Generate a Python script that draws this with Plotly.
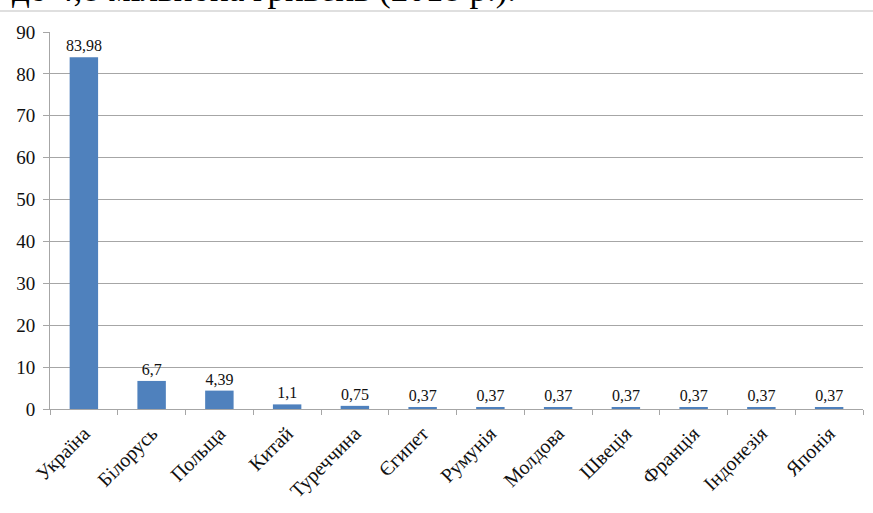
import plotly.graph_objects as go

countries = ["Україна", "Білорусь", "Польща", "Китай", "Туреччина", "Єгипет",
             "Румунія", "Молдова", "Швеція", "Франція", "Індонезія", "Японія"]
values = [83.98, 6.7, 4.39, 1.1, 0.75, 0.37, 0.37, 0.37, 0.37, 0.37, 0.37, 0.37]
value_labels = ["83,98", "6,7", "4,39", "1,1", "0,75", "0,37", "0,37", "0,37",
                "0,37", "0,37", "0,37", "0,37"]
y_ticks = [0, 10, 20, 30, 40, 50, 60, 70, 80, 90]
caption = "до 4,8 мільйона гривень (2018 р.)."

W, H = 873, 513
ML, MR, MT, MB = 50, 10, 32, 104
pw, ph = W - ML - MR, H - MT - MB

fig = go.Figure(go.Bar(
    x=countries, y=values, text=value_labels, textposition="outside",
    constraintext="none",
    textfont=dict(family="Liberation Serif", size=16, color="#111"),
    marker=dict(color="#4F81BD", line=dict(width=0)),
    cliponaxis=False,
))

fig.update_layout(
    width=W, height=H, margin=dict(l=ML, r=MR, t=MT, b=MB, autoexpand=False),
    paper_bgcolor="white", plot_bgcolor="white",
    bargap=0.58, showlegend=False,
    font=dict(family="Liberation Serif", color="#111"),
)
fig.update_yaxes(
    range=[0, 90], tickvals=y_ticks, showgrid=True, gridcolor="#A6A6A6", gridwidth=1,
    showline=True, linecolor="#A6A6A6", ticks="outside", ticklen=6, tickcolor="#A6A6A6",
    tickfont=dict(family="Liberation Serif", size=19, color="#111"), zeroline=False,
    ticklabelstandoff=4, automargin=False,
)
fig.update_xaxes(
    type="category", showgrid=False, showline=True, linecolor="#A6A6A6",
    ticks="outside", tickson="boundaries", ticklen=5, tickcolor="#A6A6A6",
    tickangle=-45, tickfont=dict(family="Liberation Serif", size=20, color="#111"),
    ticklabelstandoff=4, automargin=False,
)

# page fragment at top
fig.add_shape(type="line", xref="paper", yref="paper",
              x0=-ML / pw, x1=(W - ML) / pw, y0=(H - MB - 11) / ph, y1=(H - MB - 11) / ph,
              line=dict(color="#BFBFBF", width=1))
fig.add_annotation(text=caption, xref="paper", yref="paper",
                   x=(10 - ML) / pw, y=(H - MB - 11) / ph, xanchor="left", yanchor="bottom",
                   showarrow=False,
                   font=dict(family="Liberation Serif", size=35, color="#000"))

fig.write_html("out.html", config={"displayModeBar": False},
               post_script="document.body.style.margin='0';document.body.style.overflow='hidden';")
